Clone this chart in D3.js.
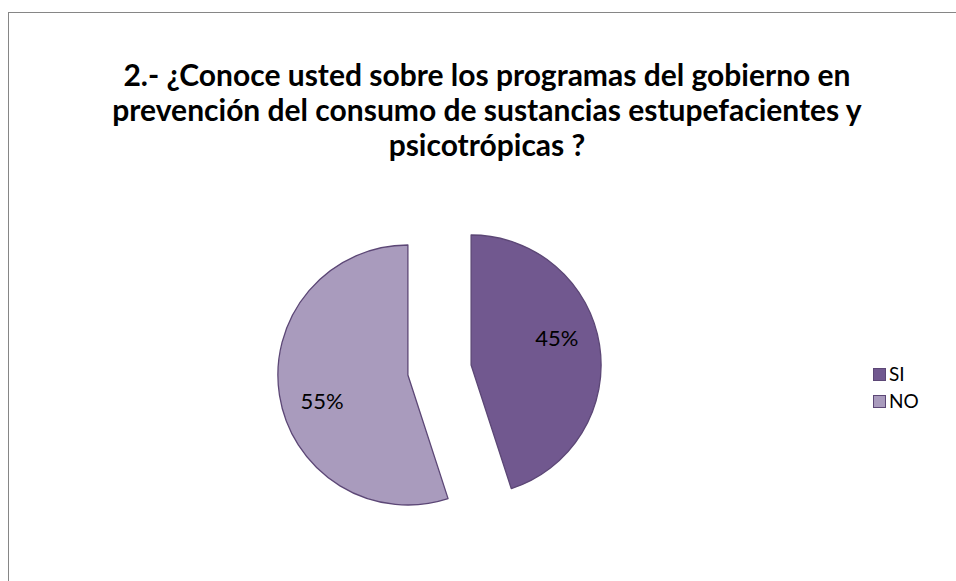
<!DOCTYPE html>
<html>
<head>
<meta charset="utf-8">
<script src="https://cdn.jsdelivr.net/npm/d3@7"></script>
<style>
  body { margin: 0; background: #fff; }
  svg { display: block; }
  text { font-family: Lato, "Open Sans", sans-serif; }
</style>
</head>
<body>
<script>
(function(){

//chart data
var categories = ["SI", "NO"];
var values = [45, 55]; //percent
var colors = ["#71588F", "#A99BBD"];
var titleLines = [
  "2.- ¿Conoce usted sobre los programas del gobierno en",
  "prevención del consumo de sustancias estupefacientes y",
  "psicotrópicas ?"
];

window.onload = drawChart();

function drawChart(){

  var width = 956,
      height = 581;

  var svg = d3.select("body")
      .append("svg")
      .attr("width", width)
      .attr("height", height);

  //chart frame (runs off the right and bottom edge)
  svg.append("rect")
      .attr("x", 8.5)
      .attr("y", 12.5)
      .attr("width", 1000)
      .attr("height", 1000)
      .attr("fill", "none")
      .attr("stroke", "#868686")
      .attr("stroke-width", 1);

  //title
  svg.append("text")
      .attr("class", "title")
      .attr("x", 487)
      .attr("y", 86)
      .attr("text-anchor", "middle")
      .style("font-weight", "bold")
      .style("font-size", "30px")
      .style("fill", "#000")
      .selectAll("tspan")
      .data(titleLines)
      .enter()
      .append("tspan")
      .attr("x", 487)
      .attr("dy", function(d, i){ return i === 0 ? 0 : 35; })
      .text(function(d){ return d; });

  drawPie(svg);
  drawLegend(svg);
};

function drawPie(svg){
  var cx = 439.5, cy = 370,
      radius = 130,
      explode = 32;

  var pie = d3.pie()
      .sort(null)
      .value(function(d){ return d.value; });

  var arc = d3.arc()
      .innerRadius(0)
      .outerRadius(radius);

  var data = categories.map(function(c, i){
    return {name: c, value: values[i], color: colors[i]};
  });

  var arcs = pie(data);

  var g = svg.append("g")
      .attr("transform", "translate(" + cx + "," + cy + ")");

  var slices = g.selectAll(".slice")
      .data(arcs)
      .enter()
      .append("g")
      .attr("class", "slice")
      .attr("transform", function(d){
        var a = (d.startAngle + d.endAngle) / 2;
        return "translate(" + (Math.sin(a) * explode) + "," + (-Math.cos(a) * explode) + ")";
      });

  slices.append("path")
      .attr("d", arc)
      .attr("fill", function(d){ return d.data.color; })
      .attr("stroke", "#5C4776")
      .attr("stroke-width", 1.3)
      .attr("stroke-linejoin", "round");

  //data labels, sitting a little counter-clockwise of each slice middle
  var total = d3.sum(values);
  slices.append("text")
      .attr("transform", function(d){
        var a = (d.startAngle + d.endAngle) / 2 - 0.14;
        var lr = radius * 0.69;
        return "translate(" + (Math.sin(a) * lr) + "," + (-Math.cos(a) * lr) + ")";
      })
      .attr("text-anchor", "middle")
      .attr("dy", "0.35em")
      .style("font-size", "22px")
      .style("fill", "#000")
      .text(function(d){ return Math.round(d.data.value / total * 100) + "%"; });
};

function drawLegend(svg){
  var y = d3.scaleBand()
      .domain(categories)
      .range([361, 415]);

  var items = svg.selectAll(".legend")
      .data(categories)
      .enter()
      .append("g")
      .attr("class", "legend")
      .attr("transform", function(d){ return "translate(873," + (y(d) + y.bandwidth() / 2) + ")"; });

  items.append("rect")
      .attr("x", 0.5)
      .attr("y", -6)
      .attr("width", 12)
      .attr("height", 12)
      .attr("fill", function(d, i){ return colors[i]; })
      .attr("stroke", "#5C4776")
      .attr("stroke-width", 1);

  items.append("text")
      .attr("x", 16)
      .attr("dy", "0.35em")
      .style("font-size", "19px")
      .style("fill", "#000")
      .text(function(d){ return d; });
};

})();
</script>
</body>
</html>
